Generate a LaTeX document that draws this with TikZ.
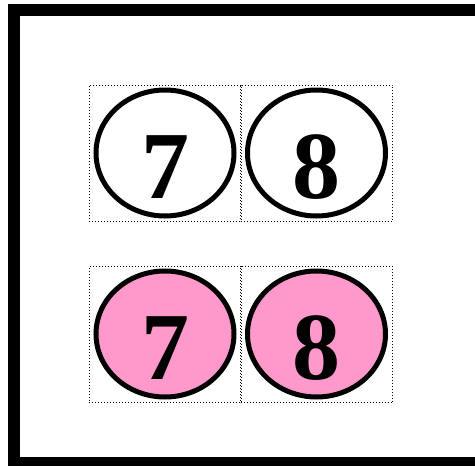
\documentclass[tikz,border=0pt]{standalone}
\usepackage{fontspec}
\setmainfont{Liberation Serif}
\usetikzlibrary{shapes.geometric}
\definecolor{pinkfill}{RGB}{255,153,204}
\begin{document}
\begin{tikzpicture}[x=1pt,y=-1pt,
  cell/.style={draw,dotted,line width=1pt,minimum width=152pt,minimum height=136pt,inner sep=0pt},
  oval/.style={draw,ellipse,line width=5pt,minimum width=138pt,minimum height=126pt,inner sep=0pt},
  digit/.style={anchor=base,inner sep=0pt,font=\fontsize{96pt}{100pt}\selectfont\bfseries}]
\useasboundingbox (0,0) rectangle (475,466);
\draw[line width=12pt] (14,10) rectangle (481,463);
\node[cell] (c1) at (165,153) {};
\node[cell] (c2) at (316.5,153) {};
\node[cell] (c3) at (165,334.5) {};
\node[cell] (c4) at (316.5,334.5) {};
\node[oval] (e1) at (165,153) {};
\node[oval] (e2) at (316.5,153) {};
\node[oval,fill=pinkfill] (e3) at (165,334) {};
\node[oval,fill=pinkfill] (e4) at (316.5,334) {};
\node[digit] (t1) at (165,198) {7};
\node[digit] (t2) at (316.5,198) {8};
\node[digit] (t3) at (165,379) {7};
\node[digit] (t4) at (316.5,379) {8};
\end{tikzpicture}
\end{document}
